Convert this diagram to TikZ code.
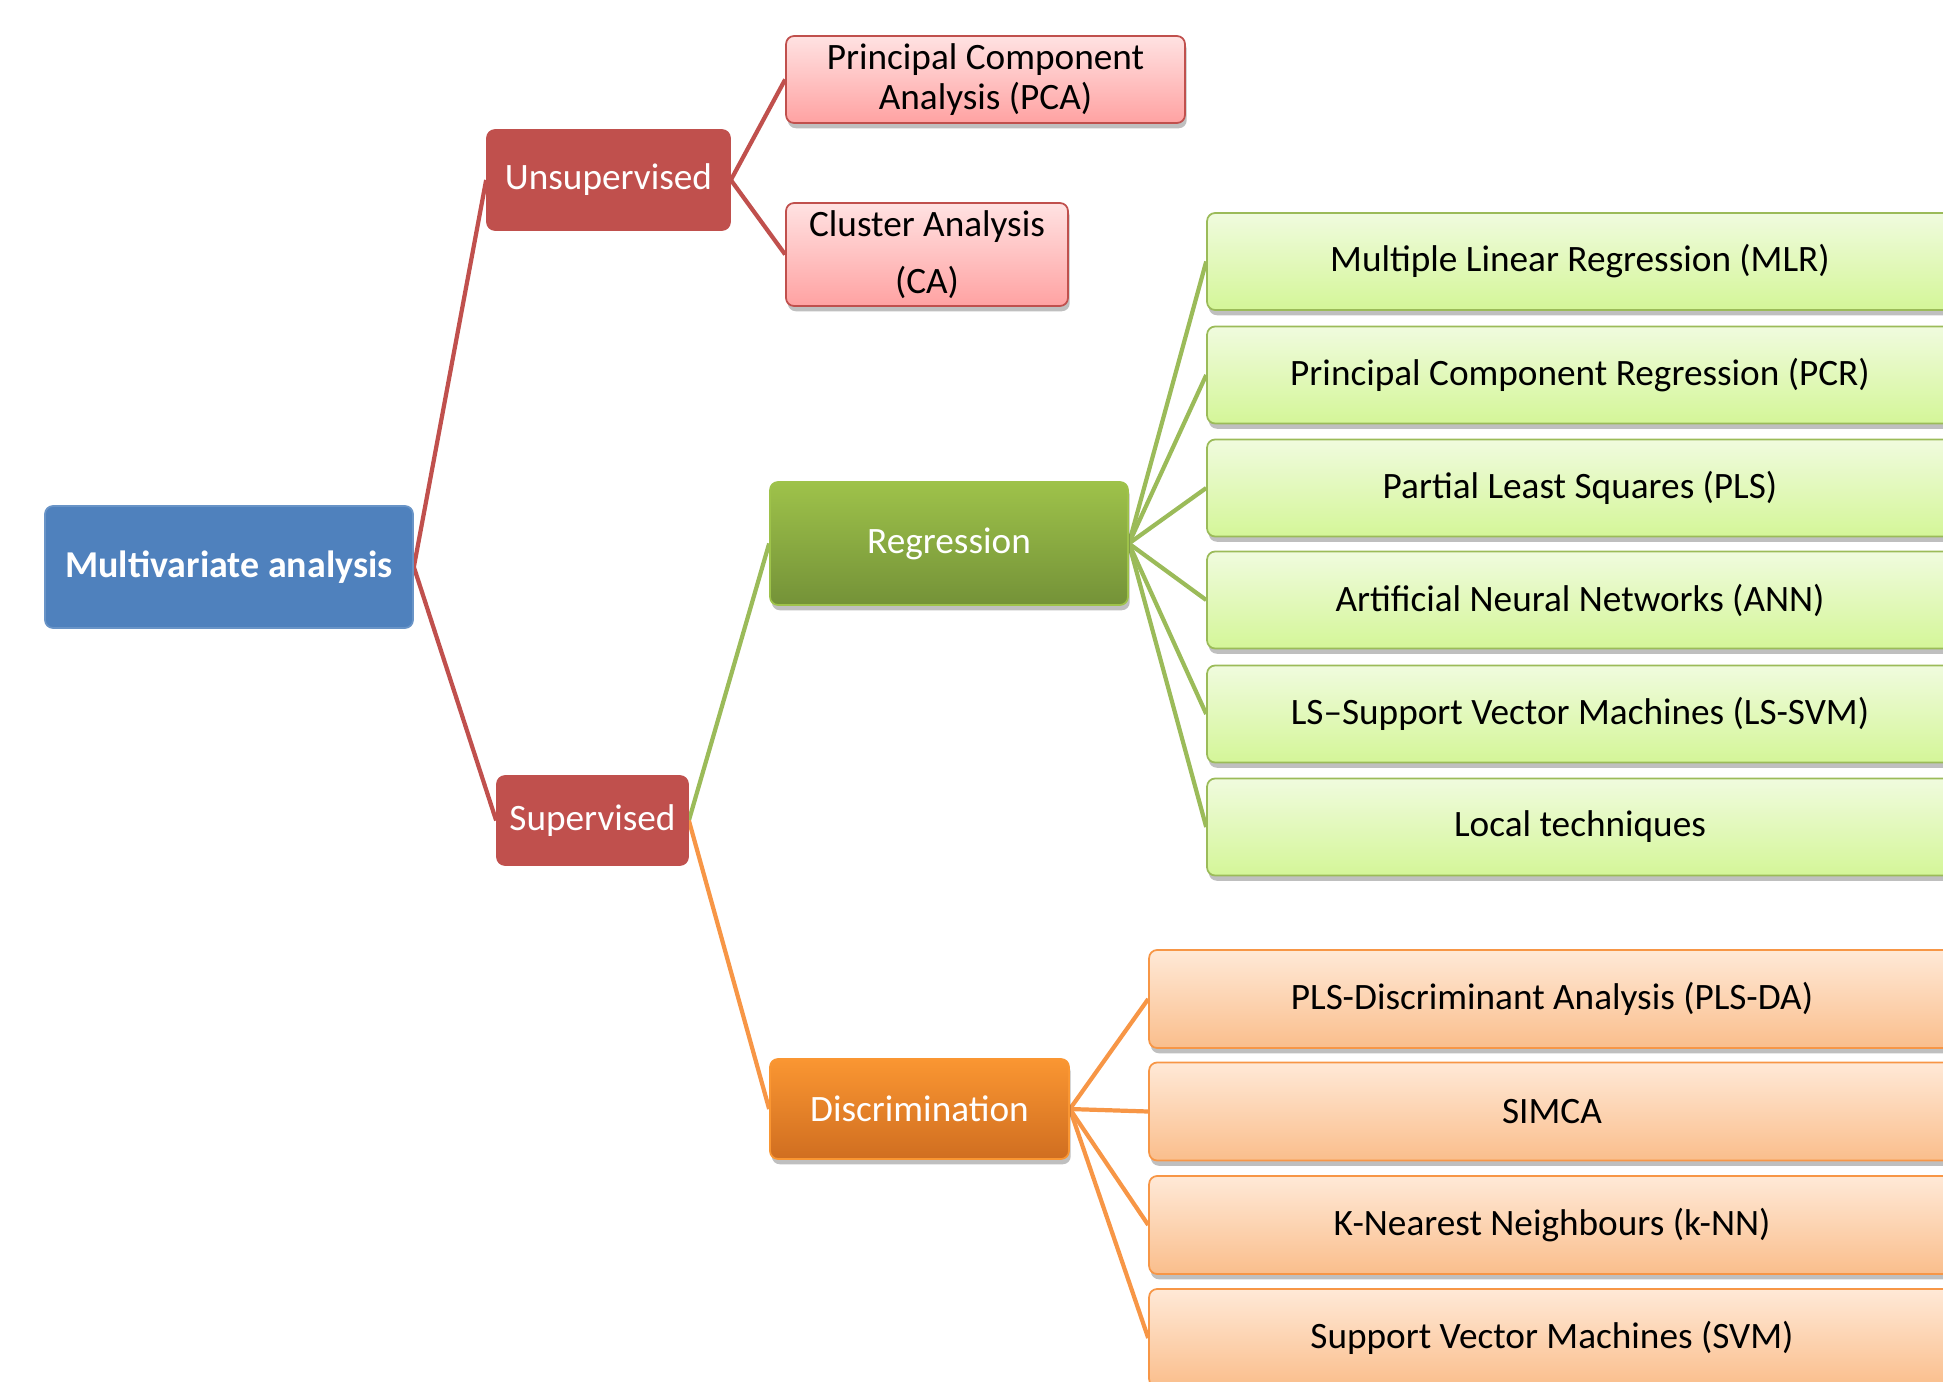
\documentclass[tikz,border=0pt]{standalone}
\usepackage{fontspec}
\setmainfont{Carlito}
\usetikzlibrary{shadows,backgrounds}
\definecolor{mvblue}{HTML}{4F81BD}
\definecolor{mvred}{HTML}{C0504D}
\definecolor{mvgreen}{HTML}{9BBB59}
\definecolor{mvorange}{HTML}{F79646}
\definecolor{pinktop}{RGB}{255,226,226}
\definecolor{pinkbot}{RGB}{255,162,162}
\definecolor{regtop}{RGB}{158,194,74}
\definecolor{regbot}{RGB}{116,146,56}
\definecolor{disctop}{RGB}{250,150,50}
\definecolor{discbot}{RGB}{208,110,32}
\definecolor{lgreentop}{RGB}{240,251,222}
\definecolor{lgreenbot}{RGB}{212,246,152}
\definecolor{lorangetop}{RGB}{255,233,215}
\definecolor{lorangebot}{RGB}{250,190,140}
\tikzset{
  box/.style={rounded corners=0.16cm, inner sep=0pt, align=center,
    line width=1pt, font=\fontsize{21.2}{23}\selectfont},
  shadowed/.style={drop shadow={shadow xshift=1pt, shadow yshift=-3pt,
    opacity=0.25, fill=black}},
  rootbox/.style={box, fill=mvblue, draw=mvblue!85!white, text=white,
    font=\fontsize{21.6}{23}\selectfont\bfseries},
  redbox/.style={box, fill=mvred, draw=mvred, text=white},
  pinkbox/.style={box, shadowed, top color=pinktop, bottom color=pinkbot,
    draw=mvred},
  regbox/.style={box, shadowed, top color=regtop, bottom color=regbot,
    draw=regtop, text=white},
  discbox/.style={box, shadowed, top color=disctop, bottom color=discbot,
    draw=disctop, text=white},
  greenleaf/.style={box, shadowed, top color=lgreentop,
    bottom color=lgreenbot, draw=mvgreen,
    minimum width=14.92cm, minimum height=1.94cm},
  orangeleaf/.style={box, shadowed, top color=lorangetop,
    bottom color=lorangebot, draw=mvorange,
    minimum width=16.12cm, minimum height=1.96cm},
  redline/.style={draw=mvred, line width=2.4pt},
  greenline/.style={draw=mvgreen, line width=2.4pt},
  orangeline/.style={draw=mvorange, line width=2.4pt}
}
\begin{document}
\begin{tikzpicture}[x=0.02cm, y=-0.02cm]
  \useasboundingbox (0,0) rectangle (1943,1382);
  \clip (0,0) rectangle (1943,1382);
  % tree levels
  \path
    (229,567) node[rootbox, minimum width=7.36cm, minimum height=2.44cm] (mva) {Multivariate analysis}
    (608.5,180) node[redbox, minimum width=4.86cm, minimum height=2cm] (unsup) {Unsupervised}
    (592.5,820.5) node[redbox, minimum width=3.82cm, minimum height=1.78cm] (sup) {Supervised}
    (985.5,79.5) node[pinkbox, minimum width=7.98cm, minimum height=1.74cm] (pca) {Principal Component\\Analysis (PCA)}
    (927,254.5) node[pinkbox, minimum width=5.64cm, minimum height=2.06cm] (ca) {Cluster Analysis\\[9.4pt](CA)}
    (949,543.5) node[regbox, minimum width=7.16cm, minimum height=2.46cm] (reg) {Regression}
    (919.5,1109) node[discbox, minimum width=5.98cm, minimum height=2cm] (disc) {Discrimination};
  % regression methods
  \path
    (1580,261.5) node[greenleaf] (mlr) {Multiple Linear Regression (MLR)}
    (1580,375) node[greenleaf] (pcr) {Principal Component Regression (PCR)}
    (1580,488) node[greenleaf] (pls) {Partial Least Squares (PLS)}
    (1580,600) node[greenleaf] (ann) {Artificial Neural Networks (ANN)}
    (1580,714) node[greenleaf] (lssvm) {LS–Support Vector Machines (LS-SVM)}
    (1580,827) node[greenleaf] (local) {Local techniques};
  % discrimination methods
  \path
    (1552,999) node[orangeleaf] (plsda) {PLS-Discriminant Analysis (PLS-DA)}
    (1552,1111.5) node[orangeleaf] (simca) {SIMCA}
    (1552,1225) node[orangeleaf] (knn) {K-Nearest Neighbours (k-NN)}
    (1552,1338) node[orangeleaf] (svm) {Support Vector Machines (SVM)};
  \begin{scope}[on background layer]
    \draw[redline] (mva.east) to (unsup.west);
    \draw[redline] (mva.east) to (sup.west);
    \draw[redline] (unsup.east) to (pca.west);
    \draw[redline] (unsup.east) to (ca.west);
    \draw[greenline] (sup.east) to (reg.west);
    \draw[orangeline] (sup.east) to (disc.west);
    \draw[greenline] (reg.east) to (mlr.west);
    \draw[greenline] (reg.east) to (pcr.west);
    \draw[greenline] (reg.east) to (pls.west);
    \draw[greenline] (reg.east) to (ann.west);
    \draw[greenline] (reg.east) to (lssvm.west);
    \draw[greenline] (reg.east) to (local.west);
    \draw[orangeline] (disc.east) to (plsda.west);
    \draw[orangeline] (disc.east) to (simca.west);
    \draw[orangeline] (disc.east) to (knn.west);
    \draw[orangeline] (disc.east) to (svm.west);
  \end{scope}
\end{tikzpicture}
\end{document}
